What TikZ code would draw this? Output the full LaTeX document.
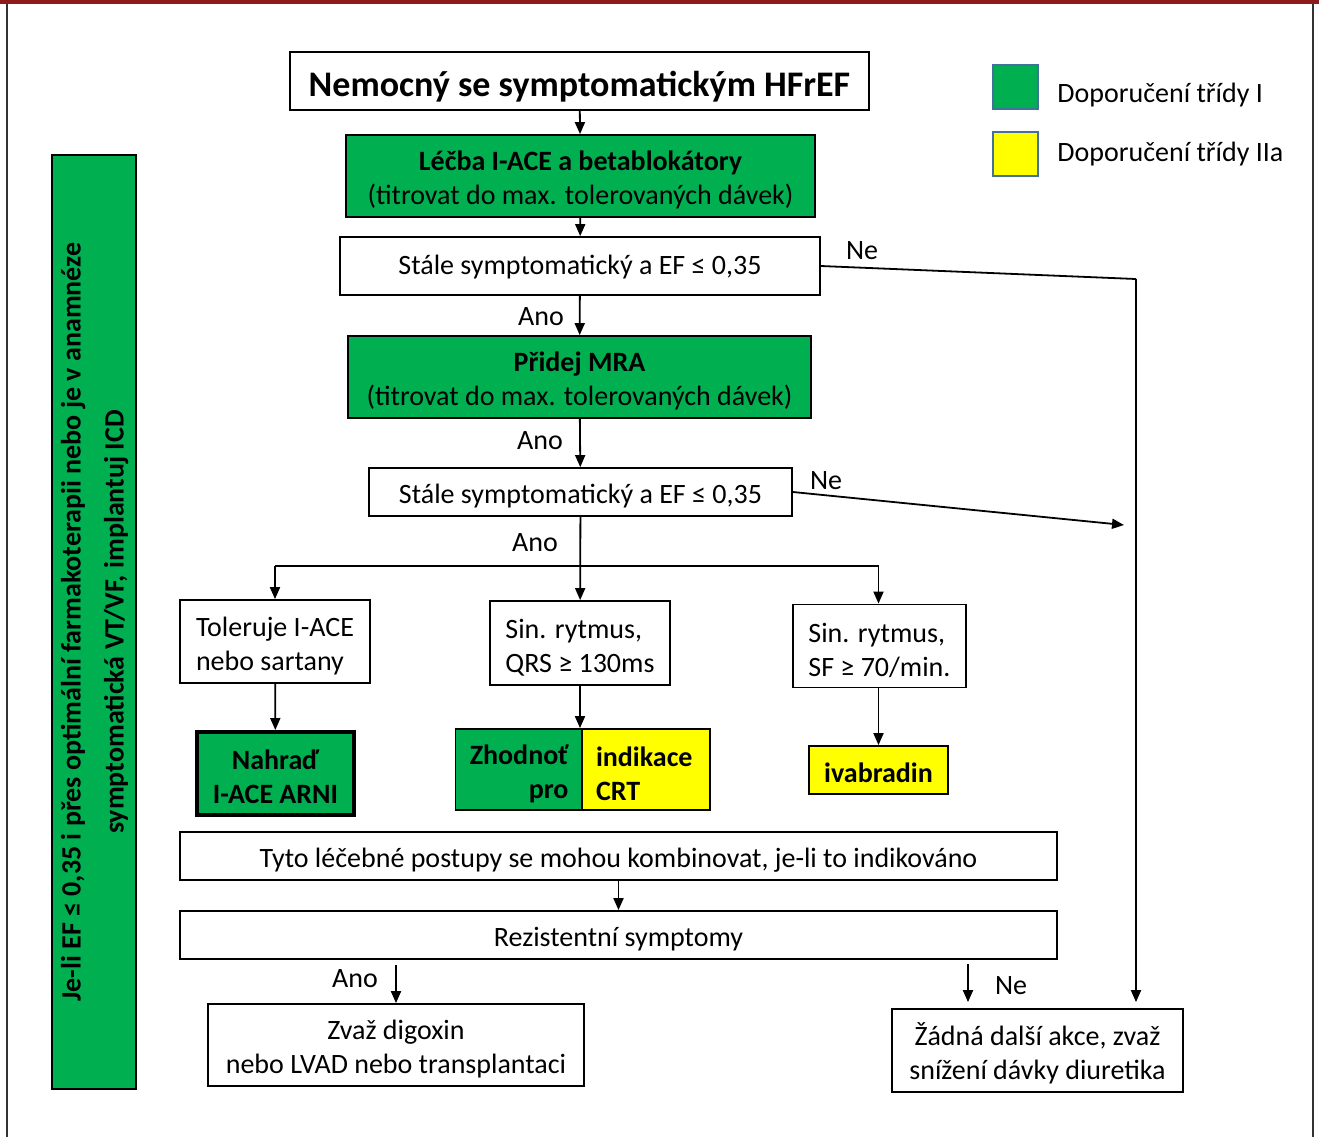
\documentclass[tikz,border=0pt]{standalone}
\usepackage{fontspec}
\setmainfont{Carlito}
\usepackage{xcolor}
\usepackage{tikz}
\usetikzlibrary{calc,arrows.meta,positioning}
\definecolor{greenc}{HTML}{00B050}
\definecolor{yellc}{HTML}{FFFF00}
\definecolor{redc}{HTML}{8E1B1B}
\definecolor{legc}{HTML}{41719C}
\tikzset{
  ar/.style={-{Triangle[length=6pt,width=5pt]},line width=0.9pt,black},
  ln/.style={line width=0.9pt,black},
  box/.style={draw=black,line width=0.9pt,fill=white,align=center,inner sep=0pt,text height=14pt,font=\fontsize{14}{17}\selectfont},
  gbox/.style={box,fill=greenc},
  ybox/.style={box,fill=yellc},
  twol/.style={text height=31pt},
  lab/.style={font=\fontsize{14}{16}\selectfont,inner sep=0pt}
}
\begin{document}
\begin{tikzpicture}[x=0.5pt,y=-0.5pt]
\useasboundingbox (0,0) rectangle (1319,1137);
\fill[redc] (0,0) rectangle (1319,4);
\draw[line width=0.6pt,black!80] (7,4) -- (7,1137) (1313,4) -- (1313,1137);
% legenda
\foreach \yy/\ty/\cc/\txt in {86.5/95/greenc/{Doporučení třídy I},153.5/154.5/yellc/{Doporučení třídy IIa}}{
 \node[draw=legc,line width=1pt,fill=\cc,minimum width=22.5pt,minimum height=22pt,inner sep=0pt] (leg) at (1015.5,\yy) {};
 \node[lab,anchor=west] at (1057,\ty) {\txt};}
% hlavni vetev
\node[box,minimum width=289.5pt,minimum height=29pt,text height=18.5pt,font=\fontsize{18}{21}\selectfont\bfseries] (start) at (579.5,81) {Nemocný se symptomatickým HFrEF};
\node[gbox,twol,minimum width=234.5pt,minimum height=41pt] (lecba) at (580.5,176) {\textbf{Léčba I-ACE a betablokátory}\\(titrovat do max. tolerovaných dávek)};
\node[box,minimum width=240pt,minimum height=29pt,text height=11pt] (stale1) at (580,266) {Stále symptomatický a EF ≤ 0,35};
\node[gbox,twol,minimum width=231.5pt,minimum height=41pt] (mra) at (579.5,377) {\textbf{Přidej MRA}\\(titrovat do max. tolerovaných dávek)};
\node[box,minimum width=211.5pt,minimum height=24pt] (stale2) at (580.5,492) {Stále symptomatický a EF ≤ 0,35};
\draw[ar] (start) -- (lecba);
\draw[ar] (lecba) -- (stale1);
\draw[ar] (stale1) -- (mra);
\draw[ar] (mra) -- (stale2);
\node[lab] (ano1) at (541,317) {Ano};
\node[lab] (ano2) at (540,441) {Ano};
\node[lab] (ano3) at (535,543) {Ano};
% Ne
\coordinate (ne1c) at (1136,279);
\coordinate (ne2c) at (1124,525);
\node[lab] (ne1) at (862,251) {Ne};
\node[lab] (ne2) at (826,481) {Ne};
% tri vetve
\node[box,twol,minimum width=95pt,minimum height=41.5pt,align=left] (tol) at (275,641.5) {Toleruje I-ACE\\nebo sartany};
\node[box,twol,minimum width=90pt,minimum height=42pt,align=left] (sin1) at (580,643) {Sin. rytmus,\\QRS ≥ 130ms};
\node[box,twol,minimum width=86.5pt,minimum height=41.5pt,align=left] (sin2) at (879.5,646) {Sin. rytmus,\\SF ≥ 70/min.};
\node[gbox,minimum width=78.5pt,minimum height=41.5pt,line width=2pt,text height=30.5pt,font=\fontsize{14}{17}\selectfont\bfseries] (nahrad) at (275.5,773.5) {Nahraď\\I-ACE ARNI};
\node[gbox,minimum height=40.5pt,inner xsep=6.5pt,text width=50pt,align=right,font=\fontsize{14}{17}\selectfont\bfseries] (crtl) at (518.5,769.5) {Zhodnoť\\pro};
\node[ybox,minimum height=40.5pt,inner xsep=7pt,text width=50pt,align=left,font=\fontsize{14}{17}\selectfont\bfseries] (crtr) at (646,769.5) {indikace\\CRT};
\node[ybox,minimum width=69.5pt,minimum height=24pt,text height=12.5pt,font=\fontsize{14}{17}\selectfont\bfseries] (ivab) at (878.5,770) {ivabradin};
\coordinate (split) at (580,566);
\draw[ln] (split -| tol) -- (split -| ivab);
\draw[ar] (stale2) -- (sin1);
\draw[ar] (split -| tol) -- (tol);
\draw[ar] (split -| ivab) -- (ivab |- sin2.north);
\draw[ar] (tol) -- (nahrad);
\draw[ar] (sin1) -- (sin1 |- crtl.north);
\draw[ar] (ivab |- sin2.south) -- (ivab);
% spodni cast
\node[box,minimum width=438.5pt,minimum height=24pt] (tyto) at (618.5,856) {Tyto léčebné postupy se mohou kombinovat, je-li to indikováno};
\node[box,minimum width=438.5pt,minimum height=24pt] (rez) at (618.5,935) {Rezistentní symptomy};
\node[box,twol,minimum width=188pt,minimum height=41pt] (zvaz) at (396,1045) {Zvaž digoxin\\nebo LVAD nebo transplantaci};
\node[box,twol,minimum width=145.5pt,minimum height=41.5pt] (zadna) at (1037.5,1050.5) {Žádná další akce, zvaž\\snížení dávky diuretika};
\coordinate (nex) at (968,0);
\node[lab] (ano4) at (355,979) {Ano};
\node[lab] (ne3) at (1011,986) {Ne};
\draw[ar] (tyto) -- (rez);
\draw[ar] ([yshift=-2.5pt]rez.south -| zvaz.north) -- (zvaz);
\draw[ar] ([yshift=-2pt]rez.south -| nex) -- ([yshift=3pt]nex |- zadna.north);
\draw[ln] (stale1.east) -- (ne1c);
\draw[ar] (ne1c) -- ([yshift=3pt]ne1c |- zadna.north);
\draw[ar] (stale2.east) -- (ne2c);
% ICD
\node[gbox,minimum width=467pt,minimum height=42pt,rotate=90,text height=32pt,font=\fontsize{14}{21.5}\selectfont\bfseries] (icd) at (94,622) {Je-li EF ≤ 0,35 i přes optimální farmakoterapii nebo je v anamnéze\\symptomatická VT/VF, implantuj ICD};
\end{tikzpicture}
\end{document}
